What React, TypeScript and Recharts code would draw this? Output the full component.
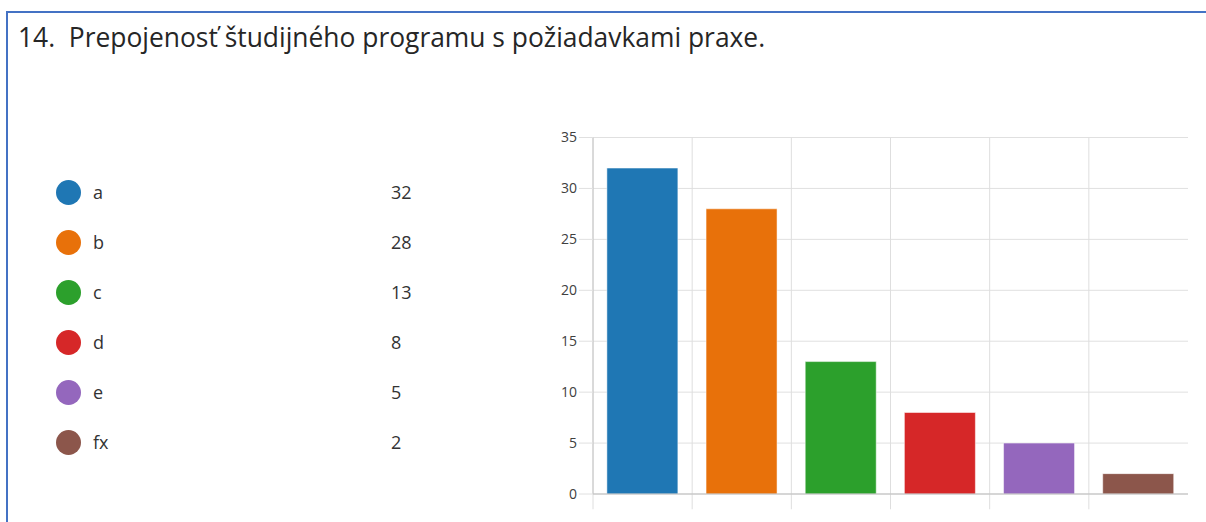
import { BarChart, Bar, XAxis, YAxis, CartesianGrid, Cell, ReferenceLine } from 'recharts'

const categories = ['a', 'b', 'c', 'd', 'e', 'fx']
const counts = [32, 28, 13, 8, 5, 2]
const colors = ['#1f77b4', '#e8710a', '#2ca02c', '#d62728', '#9467bd', '#8c564b']
const yTicks = [0, 5, 10, 15, 20, 25, 30, 35]
const yMax = 35
// the boundary lines reach a little below the zero line (in value units)
const belowZero = -1.5

const title = '14.\u00a0 Prepojenosť študijného programu s požiadavkami praxe.'
const font = '"Open Sans", "Noto Sans", sans-serif'

export default function App() {
  const data = categories.map((c, i) => ({ name: c, count: counts[i] }))

  return (
    <div
      style={{
        position: 'absolute',
        left: 0,
        top: 0,
        width: 1206,
        height: 522,
        overflow: 'hidden',
        background: '#fff',
        fontFamily: font,
      }}
    >
      <div
        style={{
          position: 'absolute',
          left: 6,
          top: 11,
          width: 1300,
          height: 600,
          borderTop: '2px solid #4472c4',
          borderLeft: '2px solid #4472c4',
        }}
      />
      <div
        style={{
          position: 'absolute',
          left: 18,
          top: 19,
          fontSize: 26.4,
          lineHeight: '36px',
          color: '#262626',
          whiteSpace: 'nowrap',
        }}
      >
        {title}
      </div>

      {/* legend list */}
      {categories.map((c, i) => (
        <div
          key={c}
          style={{
            position: 'absolute',
            left: 56,
            top: 167 + i * 50,
            height: 50,
            width: 400,
            display: 'flex',
            alignItems: 'center',
            fontSize: 18,
            color: '#333',
          }}
        >
          <span
            style={{
              width: 25,
              height: 25,
              borderRadius: '50%',
              background: colors[i],
              display: 'inline-block',
            }}
          />
          <span style={{ position: 'absolute', left: 37 }}>{c}</span>
          <span style={{ position: 'absolute', left: 335 }}>{counts[i]}</span>
        </div>
      ))}

      <div style={{ position: 'absolute', left: 540, top: 120 }}>
        <BarChart
          width={666}
          height={402}
          data={data}
          margin={{ top: 17.5, right: 18, left: 0, bottom: 0 }}
          barCategoryGap="14%"
        >
          <CartesianGrid stroke="#e0e0e0" strokeWidth={1} vertical={false} />
          {categories.map((c) => (
            <ReferenceLine
              key={c}
              position="start"
              segment={[
                { x: c, y: belowZero },
                { x: c, y: yMax },
              ]}
              ifOverflow="visible"
              stroke="#dedede"
              strokeWidth={1}
            />
          ))}
          <XAxis
            dataKey="name"
            tick={false}
            tickLine={false}
            axisLine={{ stroke: '#bdbdbd' }}
            height={28}
          />
          <YAxis
            domain={[0, yMax]}
            ticks={yTicks}
            width={53}
            tickSize={14}
            tickMargin={2}
            tickLine={{ stroke: '#e0e0e0' }}
            axisLine={{ stroke: '#c4c4c4' }}
            tick={{ fontSize: 14, fill: '#404040', fontFamily: font }}
          />
          <Bar dataKey="count" isAnimationActive={false} stroke="rgba(255,255,255,0.5)">
            {data.map((_, i) => (
              <Cell key={i} fill={colors[i]} />
            ))}
          </Bar>
        </BarChart>
      </div>
    </div>
  )
}
